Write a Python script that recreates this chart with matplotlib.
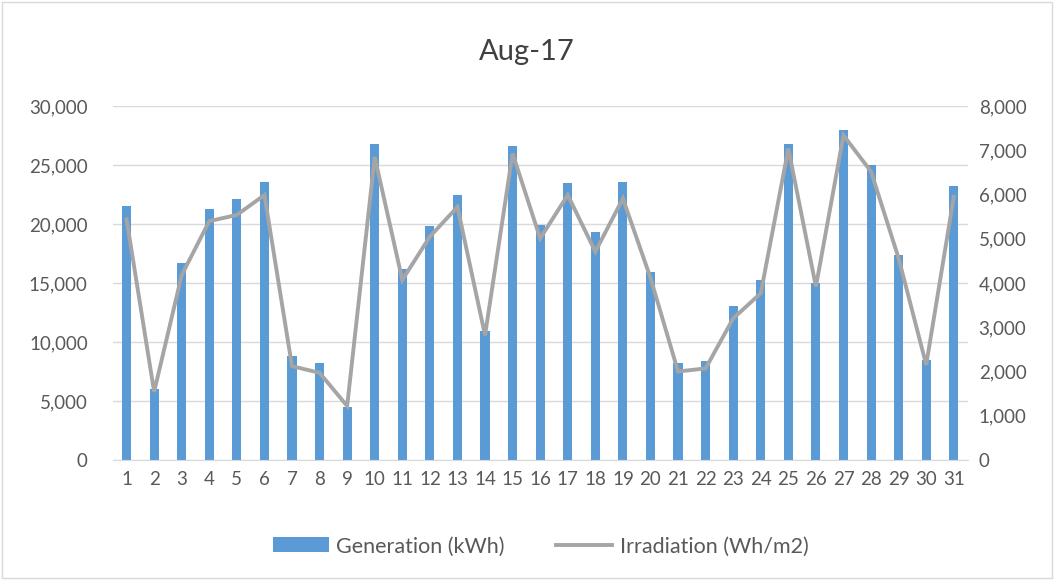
import matplotlib.pyplot as plt
from matplotlib.patches import Rectangle
from matplotlib.ticker import FuncFormatter

days = list(range(1, 32))
generation = [21500, 6000, 16700, 21300, 22100, 23600, 8800, 8250, 4500, 26750,
              16200, 19800, 22500, 10900, 26600, 19900, 23450, 19350, 23600, 15950,
              8250, 8400, 13050, 15250, 26800, 15000, 28000, 24970, 17400, 8500,
              23250]
irradiation = [5440, 1540, 4180, 5400, 5540, 5990, 2120, 1970, 1220, 6850,
               4070, 5050, 5720, 2820, 6930, 5010, 5990, 4710, 5910, 4120,
               2000, 2070, 3200, 3770, 7040, 3920, 7340, 6520, 4560, 2150,
               5950]

plt.rcParams['font.family'] = ['Lato', 'DejaVu Sans']

fig = plt.figure(figsize=(10.54, 5.8), dpi=100)
ax = fig.add_axes([0.107, 0.207, 0.811, 0.610])
ax2 = ax.twinx()

x = list(range(len(days)))
bars = ax.bar(x, generation, width=0.33, color='#5B9BD5', label='Generation (kWh)', zorder=2)
line, = ax2.plot(x, irradiation, color='#A5A5A5', lw=2.8, label='Irradiation (Wh/m2)',
                 solid_joinstyle='miter', zorder=3)

ax.set_xlim(-0.5, len(days) - 0.5)
ax.set_ylim(0, 30000)
ax2.set_ylim(0, 8000)
ax.set_yticks(range(0, 30001, 5000))
ax2.set_yticks(range(0, 8001, 1000))
fmt = FuncFormatter(lambda v, p: f"{int(v):,}")
ax.yaxis.set_major_formatter(fmt)
ax2.yaxis.set_major_formatter(fmt)
ax.set_xticks(x)
ax.set_xticklabels([str(d) for d in days])

ax.grid(axis='y', color='#D9D9D9', lw=1, zorder=0)
ax.set_axisbelow(True)
for a in (ax, ax2):
    for s in a.spines.values():
        s.set_visible(False)
    a.tick_params(length=0, labelsize=13.5, colors='#595959')
ax.spines['bottom'].set_visible(True)
ax.spines['bottom'].set_color('#D9D9D9')
ax.tick_params(axis='y', pad=18)
ax.tick_params(axis='x', pad=8)
ax2.tick_params(axis='y', pad=8)

fig.text(0.5, 0.91, 'Aug-17', ha='center', va='center', fontsize=21, color='#404040')

fig.legend([bars, line], ['Generation (kWh)', 'Irradiation (Wh/m2)'], loc='center',
           bbox_to_anchor=(0.513, 0.058), ncol=2, frameon=False, fontsize=15.5,
           labelcolor='#595959', handlelength=2.6, columnspacing=2.4, handletextpad=0.35)

fig.patches.append(Rectangle((0.002, 0.003), 0.996, 0.994, transform=fig.transFigure,
                             fill=False, edgecolor='#D9D9D9', lw=1))

fig.savefig('out.png', dpi=100)
